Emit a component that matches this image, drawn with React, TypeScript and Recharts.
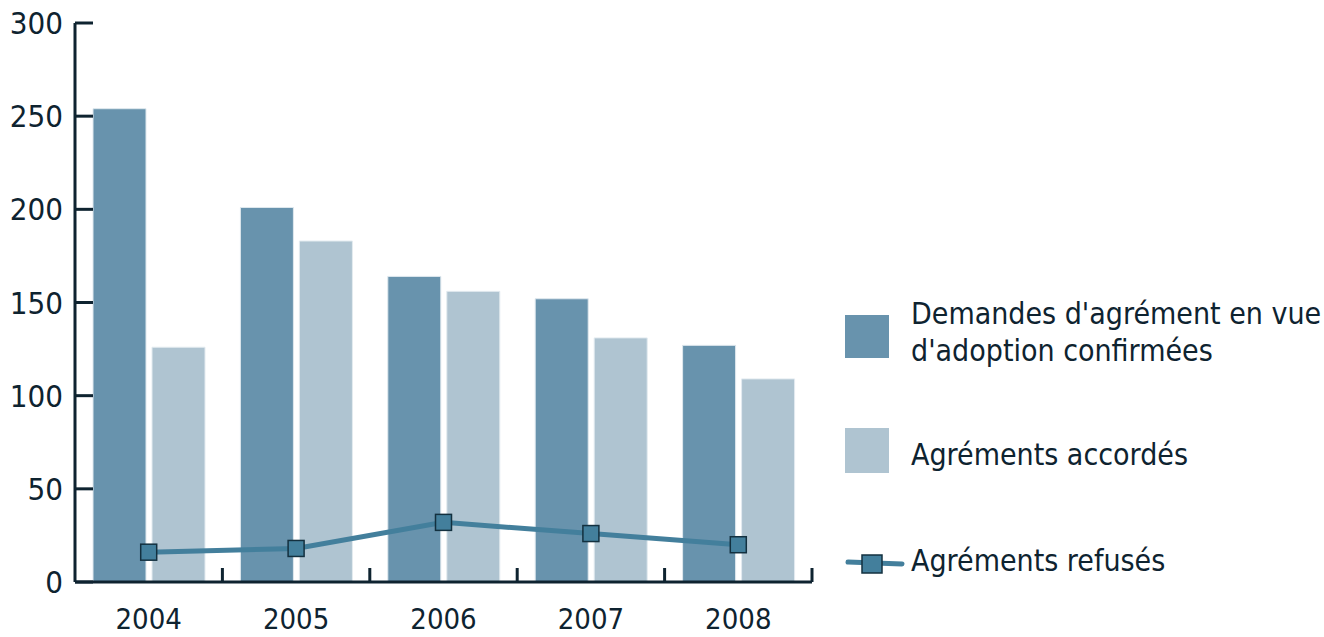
import { ComposedChart, Bar, Line, XAxis, YAxis } from 'recharts';

const years = ['2004', '2005', '2006', '2007', '2008'];
const demandes = [254, 201, 164, 152, 127];
const accordes = [126, 183, 156, 131, 109];
const refuses = [16, 18, 32, 26, 20];
const yTicks = [0, 50, 100, 150, 200, 250, 300];

const seriesNames = [
  "Demandes d'agrément en vue d'adoption confirmées",
  'Agréments accordés',
  'Agréments refusés',
];

const DARK = '#6893ad';
const LIGHT = '#afc4d1';
const LINE = '#437f9c';
const INK = '#0e2330';
const FONT = "'DejaVu Sans Condensed', 'DejaVu Sans', sans-serif";

const W = 1324;
const H = 637;
const LEFT = 75;
const RIGHT_EDGE = 812;
const TOP = 23;
const BOTTOM = 582;
const BAND = (RIGHT_EDGE - LEFT) / years.length;

const data = years.map((y, i) => ({
  year: y,
  demandes: demandes[i],
  accordes: accordes[i],
  refuses: refuses[i],
}));

const YTick = (props: any) => {
  const { x, y, payload } = props;
  return (
    <g>
      <line x1={LEFT} x2={LEFT + 18} y1={y} y2={y} stroke={INK} strokeWidth={3} />
      <text x={x} y={y} dy={11} textAnchor="end" fontSize={31} fill={INK} fontFamily={FONT}>
        {payload.value}
      </text>
    </g>
  );
};

const XTick = (props: any) => {
  const { x, payload } = props;
  const bx = x + BAND / 2;
  return (
    <g>
      <line x1={bx} x2={bx} y1={BOTTOM} y2={BOTTOM - 14} stroke={INK} strokeWidth={3} />
      <text x={x} y={BOTTOM + 47} textAnchor="middle" fontSize={29} fill={INK} fontFamily={FONT}>
        {payload.value}
      </text>
    </g>
  );
};

const SquareDot = (props: any) => {
  const { cx, cy } = props;
  if (cx == null || cy == null) return null;
  return <rect x={cx - 8} y={cy - 8} width={16} height={16} fill={LINE} stroke="#13303f" strokeWidth={1.5} />;
};

export default function App() {
  return (
    <div style={{ position: 'absolute', left: 0, top: 0, width: W, height: H, background: '#fff' }}>
      <ComposedChart
        width={W}
        height={H}
        data={data}
        margin={{ top: TOP, right: W - RIGHT_EDGE, bottom: 0, left: 0 }}
        barCategoryGap={18}
        barGap={6}
      >
        <YAxis
          width={LEFT}
          domain={[0, 300]}
          ticks={yTicks}
          interval={0}
          tickLine={false}
          tickSize={0}
          tickMargin={12}
          axisLine={{ stroke: INK, strokeWidth: 3 }}
          tick={<YTick />}
        />
        <XAxis
          dataKey="year"
          height={H - BOTTOM}
          tickLine={false}
          tickSize={0}
          axisLine={{ stroke: INK, strokeWidth: 3 }}
          tick={<XTick />}
          interval={0}
        />
        <Bar dataKey="demandes" name={seriesNames[0]} fill={DARK} stroke="#dfe8ee" strokeWidth={1} isAnimationActive={false} />
        <Bar dataKey="accordes" name={seriesNames[1]} fill={LIGHT} stroke="#e3ebf0" strokeWidth={1} isAnimationActive={false} />
        <Line
          dataKey="refuses"
          name={seriesNames[2]}
          type="linear"
          stroke={LINE}
          strokeWidth={5}
          dot={<SquareDot />}
          activeDot={false}
          isAnimationActive={false}
        />
      </ComposedChart>

      <div style={{ position: 'absolute', left: 845, top: 315, width: 44, height: 43, background: DARK }} />
      <div style={{ position: 'absolute', left: 911, top: 295, width: 430, fontFamily: FONT, fontSize: 30, lineHeight: '37px', color: INK }}>
        Demandes d'agrément en vue
        <br />
        d'adoption confirmées
      </div>

      <div style={{ position: 'absolute', left: 845, top: 428, width: 44, height: 45, background: LIGHT }} />
      <div style={{ position: 'absolute', left: 911, top: 436, fontFamily: FONT, fontSize: 30, lineHeight: '37px', color: INK, whiteSpace: 'nowrap' }}>
        {seriesNames[1]}
      </div>

      <svg style={{ position: 'absolute', left: 840, top: 550 }} width={70} height={30}>
        <line x1={8} x2={62} y1={12} y2={14} stroke={LINE} strokeWidth={5} strokeLinecap="round" />
        <rect x={22} y={5} width={20} height={18} fill={LINE} stroke="#13303f" strokeWidth={1.5} />
      </svg>
      <div style={{ position: 'absolute', left: 911, top: 542, fontFamily: FONT, fontSize: 30, lineHeight: '37px', color: INK, whiteSpace: 'nowrap' }}>
        {seriesNames[2]}
      </div>
    </div>
  );
}
